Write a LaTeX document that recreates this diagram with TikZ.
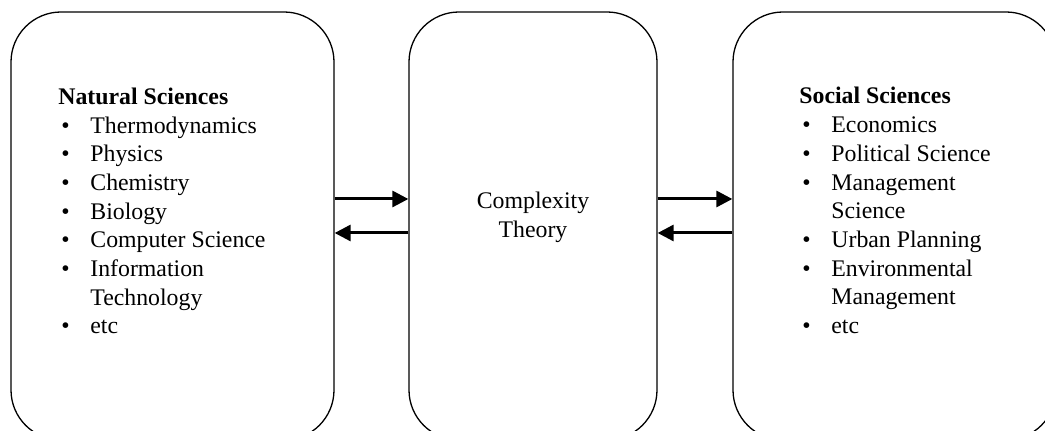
\documentclass[tikz,border=0pt]{standalone}
\usepackage{fontspec}
\setmainfont{Liberation Serif}
\usetikzlibrary{arrows.meta}
\tikzset{
    block/.style    = { rectangle, draw=black, line width=0.65pt,
	rounded corners=25pt, minimum height=214pt, inner sep=0pt },
	txt/.style      = { inner sep=0pt, font=\fontsize{11.9}{14.35}\selectfont },
	line/.style     = { draw, line width=1.5pt, -{Triangle[length=8pt,width=8pt]} },
}
\newcommand{\bul}{\makebox[16pt][l]{\hspace{1.5pt}\textbullet}}
\newcommand{\cont}{\hspace*{16pt}}

\begin{document}
\begin{tikzpicture}[x=0.5pt,y=-0.5pt]
				\useasboundingbox (0,0) rectangle (1045,431);
				\clip (0,0) rectangle (1045,431);
				% the three boxes
				\node (nat) [block, minimum width=161.5pt] at (172.5,226) {};
				\node (cpx) [block, minimum width=124pt] at (533,226) {};
				\node (soc) [block, minimum width=161.5pt] at (894.5,226) {};
				% texts
				\node (natlist) [txt, anchor=north west] at (58,83.9) {\begin{tabular}{@{}l@{}}
					\multicolumn{1}{@{}l@{}}{\textbf{Natural Sciences}} \\
					\bul Thermodynamics \\ \bul Physics \\ \bul Chemistry \\ \bul Biology \\
					\bul Computer Science \\ \bul Information \\ \cont Technology \\ \bul etc
				\end{tabular}};
				\node (cpxtext) [txt, anchor=north] at (533,187.9) {\begin{tabular}{@{}c@{}}
					Complexity \\ Theory
				\end{tabular}};
				\node (soclist) [txt, anchor=north west] at (799,83.5) {\begin{tabular}{@{}l@{}}
					\textbf{Social Sciences} \\
					\bul Economics \\ \bul Political Science \\ \bul Management \\ \cont Science \\
					\bul Urban Planning \\ \bul Environmental \\ \cont Management \\ \bul etc
				\end{tabular}};
				% arrows
				\draw [line] ([yshift=13.5pt]nat.east) -- ([yshift=13.5pt]cpx.west);
				\draw [line] ([yshift=-3.5pt]cpx.west) -- ([yshift=-3.5pt]nat.east);
				\draw [line] ([yshift=13.5pt]cpx.east) -- ([yshift=13.5pt]soc.west);
				\draw [line] ([yshift=-3.5pt]soc.west) -- ([yshift=-3.5pt]cpx.east);
\end{tikzpicture}
\end{document}
